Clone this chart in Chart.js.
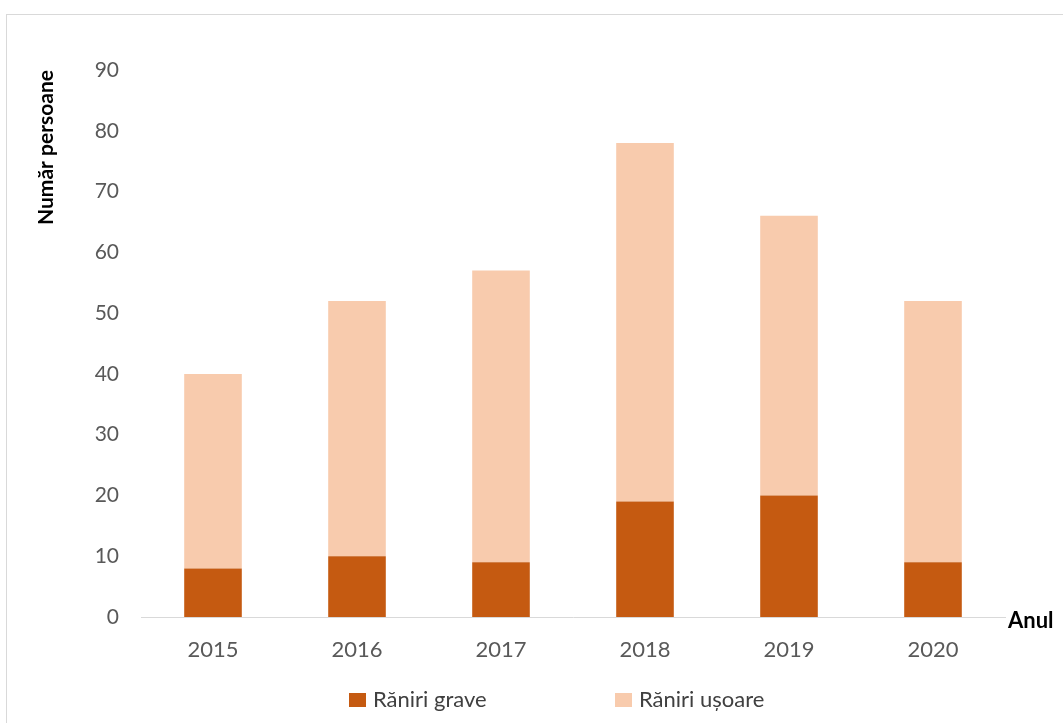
<!DOCTYPE html>
<html>
<head>
<meta charset="utf-8">
<script src="https://cdn.jsdelivr.net/npm/chart.js@4.4.1/dist/chart.umd.min.js"></script>
<style>
  html, body { margin: 0; padding: 0; background: #fff; overflow: hidden; }
  #wrap { position: relative; width: 1063px; height: 723px; }
  #frame { position: absolute; left: 6px; top: 14px; width: 1100px; height: 800px; border: 1px solid #d9d9d9; box-sizing: border-box; }
  canvas { position: absolute; left: 0; top: 0; }
</style>
</head>
<body>
<div id="wrap">
  <div id="frame"></div>
  <canvas id="c" width="1063" height="723"></canvas>
</div>
<script>
// ---- data ----
const years = ['2015', '2016', '2017', '2018', '2019', '2020'];
const raniriGrave = [8, 10, 9, 19, 20, 9];
const raniriUsoare = [32, 42, 48, 59, 46, 43];
const seriesNames = ['Răniri grave', 'Răniri ușoare'];
const yTitle = 'Număr persoane';
const xTitle = 'Anul';
const yMin = 0, yMax = 90, yStep = 10;

const FONT = 'Lato, "Open Sans", sans-serif';

const customLegend = {
  id: 'customLegend',
  afterDraw(chart) {
    const ctx = chart.ctx;
    ctx.save();
    // x axis title at right end of axis
    const xs = chart.scales.x;
    ctx.font = 'bold 22px ' + FONT;
    ctx.fillStyle = '#000';
    ctx.textAlign = 'left';
    ctx.textBaseline = 'middle';
    ctx.fillText(xTitle, xs.right + 3, xs.top + 4);

    // legend
    const ds = chart.data.datasets;
    ctx.font = '22px ' + FONT;
    const boxW = 17, boxH = 14, boxGap = 7;
    const itemX = [349, 615];
    const cy = 700;
    ds.forEach((d, i) => {
      const x = itemX[i];
      ctx.fillStyle = d.backgroundColor;
      ctx.fillRect(x, cy - boxH / 2, boxW, boxH);
      ctx.fillStyle = '#404040';
      ctx.textAlign = 'left';
      ctx.textBaseline = 'middle';
      ctx.fillText(d.label, x + boxW + boxGap, cy);
    });
    ctx.restore();
  }
};

new Chart(document.getElementById('c'), {
  type: 'bar',
  data: {
    labels: years,
    datasets: [
      { label: seriesNames[0], data: raniriGrave, backgroundColor: '#C55A11', categoryPercentage: 0.8, barPercentage: 0.5 },
      { label: seriesNames[1], data: raniriUsoare, backgroundColor: '#F8CBAD', categoryPercentage: 0.8, barPercentage: 0.5 }
    ]
  },
  options: {
    responsive: false,
    animation: false,
    devicePixelRatio: 1,
    layout: { padding: { left: 0, right: 58, top: 70, bottom: 0 } },
    plugins: {
      legend: { display: false },
      tooltip: { enabled: false }
    },
    scales: {
      x: {
        stacked: true,
        grid: { display: false, drawTicks: false },
        border: { display: true, color: '#d9d9d9', width: 1 },
        ticks: { font: { family: FONT, size: 22 }, color: '#595959', padding: 20 },
        afterFit(scale) { scale.height = 106; }
      },
      y: {
        stacked: true,
        min: yMin, max: yMax,
        grid: { display: false, drawTicks: false },
        border: { display: false },
        ticks: { stepSize: yStep, font: { family: FONT, size: 21 }, color: '#595959', padding: 22 },
        title: {
          display: true, text: yTitle, align: 'end',
          font: { family: FONT, size: 21, weight: 'bold' }, color: '#000',
          padding: { top: 34, bottom: 0 }
        },
        afterFit(scale) { scale.width = 141; }
      }
    }
  },
  plugins: [customLegend]
});
</script>
</body>
</html>
